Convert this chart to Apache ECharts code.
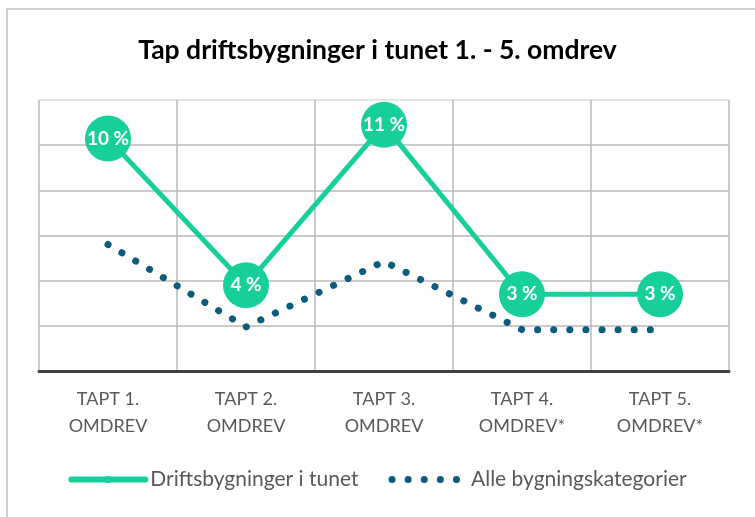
<!DOCTYPE html>
<html>
<head>
<meta charset="utf-8">
<script src="https://cdn.jsdelivr.net/npm/echarts@6/dist/echarts.min.js"></script>
<style>
  html, body { margin: 0; padding: 0; background: #fff; }
  #frame {
    position: absolute; left: 6px; top: 8px; width: 760px; height: 520px;
    border-top: 2px solid #d0d0d0; border-left: 2px solid #d0d0d0;
  }
  #chart { position: absolute; left: 0; top: 0; width: 755px; height: 517px; }
</style>
</head>
<body>
<div id="frame"></div>
<div id="chart"></div>
<script>
// values (percent)
const categories = ['TAPT 1.\nOMDREV', 'TAPT 2.\nOMDREV', 'TAPT 3.\nOMDREV', 'TAPT 4.\nOMDREV*', 'TAPT 5.\nOMDREV*']
const driftsbygninger = [10.3, 3.8, 10.9, 3.4, 3.4]
const alleKategorier = [5.6, 1.95, 4.85, 1.83, 1.83]

const green = '#17cf98'
const blue = '#0e5b7e'
const textColor = '#595959'
const fontFamily = 'Lato, "Liberation Sans", sans-serif'
const dots = [0.1, 16]

const chart = echarts.init(document.getElementById('chart'), null, { renderer: 'canvas' })

const option = {
  animation: false,
  title: {
    text: 'Tap driftsbygninger i tunet 1. - 5. omdrev',
    left: 'center',
    top: 32,
    textStyle: { fontFamily, fontSize: 26.5, fontWeight: 'bold', color: '#000' }
  },
  grid: { left: 39, right: 26, top: 100, bottom: 146 },
  legend: {
    bottom: 22,
    left: 'center',
    itemWidth: 74,
    itemHeight: 9,
    itemGap: 30,
    textStyle: { fontFamily, fontSize: 21, color: textColor },
    data: [
      {
        name: 'Driftsbygninger i tunet',
        lineStyle: { width: 6, cap: 'round' }
      },
      {
        name: 'Alle bygningskategorier',
        lineStyle: { width: 7, type: dots, cap: 'round' },
        itemStyle: { opacity: 0 }
      }
    ]
  },
  xAxis: {
    type: 'category',
    data: categories,
    boundaryGap: true,
    axisLine: { lineStyle: { color: '#404040', width: 3 } },
    axisTick: { show: false },
    axisLabel: {
      fontFamily, fontSize: 18, color: textColor, lineHeight: 27, margin: 15
    },
    splitLine: { show: true, lineStyle: { color: '#b8b8b8', width: 1.5 } }
  },
  yAxis: {
    type: 'value',
    min: 0,
    max: 12,
    interval: 2,
    axisLabel: { show: false },
    axisLine: { show: false },
    axisTick: { show: false },
    splitLine: {
      lineStyle: {
        color: ['#b8b8b8', '#b8b8b8', '#b8b8b8', '#b8b8b8', '#b8b8b8', '#b8b8b8', '#dedede'],
        width: 1.5
      }
    }
  },
  series: [
    {
      name: 'Alle bygningskategorier',
      type: 'line',
      data: alleKategorier,
      symbol: 'none',
      z: 2,
      lineStyle: { color: blue, width: 7, type: dots, cap: 'round' },
      itemStyle: { color: blue }
    },
    {
      name: 'Driftsbygninger i tunet',
      type: 'line',
      data: driftsbygninger,
      symbol: 'circle',
      symbolSize: 46,
      z: 3,
      lineStyle: { color: green, width: 5 },
      itemStyle: { color: green },
      label: {
        show: true,
        position: 'inside',
        formatter: p => Math.round(p.value) + ' %',
        fontFamily, fontSize: 19, fontWeight: 'bold', color: '#fff'
      }
    }
  ]
}

chart.setOption(option)
</script>
</body>
</html>
